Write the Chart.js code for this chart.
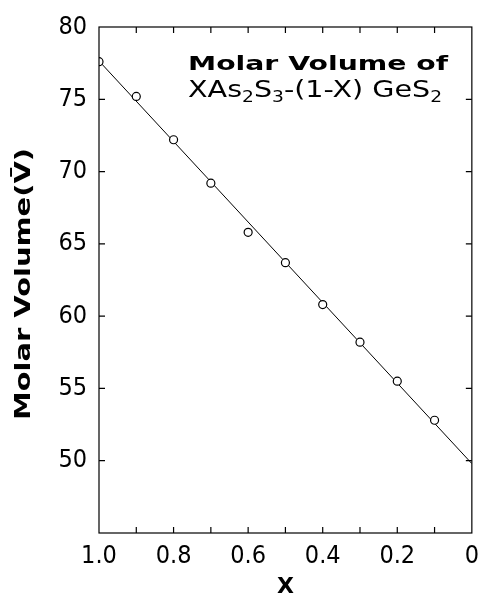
<!DOCTYPE html>
<html>
<head>
<meta charset="utf-8">
<script src="https://cdn.jsdelivr.net/npm/chart.js@4"></script>
<style>
  html, body { margin: 0; padding: 0; background: #fff; }
  #wrap { width: 487px; height: 600px; }
</style>
</head>
<body>
<div id="wrap"><canvas id="volumeChart"></canvas></div>
<script>
// Данные: мольная доля X и мольный объём
const xValues = [1.0, 0.9, 0.8, 0.7, 0.6, 0.5, 0.4, 0.3, 0.2, 0.1];
const molarVolume = [77.6, 75.2, 72.2, 69.2, 65.8, 63.7, 60.8, 58.2, 55.5, 52.8];
// Прямая через точки
const fitX = [1.0, 0];
const fitY = [77.65, 49.8];
// Подписи осей
const xTickValues = [1.0, 0.8, 0.6, 0.4, 0.2, 0];
const xTickLabels = ['1.0', '0.8', '0.6', '0.4', '0.2', '0'];
const yTickLabels = ['50', '55', '60', '65', '70', '75', '80'];

const tickFont = "'Liberation Sans Narrow', 'DejaVu Sans Condensed', 'Liberation Sans', sans-serif";

// Draw text squeezed/stretched to a given width
function drawFitted(ctx, text, x, y, width) {
    const w = ctx.measureText(text).width;
    ctx.save();
    ctx.translate(x, y);
    ctx.scale(width / w, 1);
    ctx.fillText(text, 0, 0);
    ctx.restore();
}

const framePlugin = {
    id: 'frame',
    afterDraw(chart) {
        const { ctx, chartArea: a, scales: { x, y } } = chart;
        ctx.save();
        ctx.strokeStyle = '#000';
        ctx.lineWidth = 1.2;
        ctx.strokeRect(a.left, a.top, a.right - a.left, a.bottom - a.top);

        // inward ticks
        ctx.beginPath();
        for (let i = 1; i < 10; i++) {
            const px = x.getPixelForValue(i / 10);
            ctx.moveTo(px, a.bottom); ctx.lineTo(px, a.bottom - 6);
            ctx.moveTo(px, a.top); ctx.lineTo(px, a.top + 6);
        }
        for (let v = 50; v < 80; v += 5) {
            const py = y.getPixelForValue(v);
            ctx.moveTo(a.left, py); ctx.lineTo(a.left + 6, py);
            ctx.moveTo(a.right, py); ctx.lineTo(a.right - 6, py);
        }
        ctx.stroke();

        ctx.fillStyle = '#000';
        ctx.textAlign = 'left';
        ctx.textBaseline = 'alphabetic';

        // подпись в поле графика, строка 1
        ctx.font = "bold 20px 'DejaVu Sans', sans-serif";
        drawFitted(ctx, 'Molar Volume of', 188, 70, 260);

        // строка 2 с индексами
        const parts = [
            { t: 'XAs', sub: false }, { t: '2', sub: true },
            { t: 'S', sub: false }, { t: '3', sub: true },
            { t: '-(1-X) GeS', sub: false }, { t: '2', sub: true }
        ];
        const mainFont = "23px 'DejaVu Sans', sans-serif";
        const subFont = "15px 'DejaVu Sans', sans-serif";
        let total = 0;
        parts.forEach(p => {
            ctx.font = p.sub ? subFont : mainFont;
            p.w = ctx.measureText(p.t).width;
            total += p.w;
        });
        const k = 254 / total;
        ctx.save();
        ctx.translate(188, 97);
        ctx.scale(k, 1);
        let cx = 0;
        parts.forEach(p => {
            ctx.font = p.sub ? subFont : mainFont;
            ctx.fillText(p.t, cx, p.sub ? 5 : 0);
            cx += p.w;
        });
        ctx.restore();

        // Y axis title
        ctx.save();
        ctx.translate(24, 284);
        ctx.rotate(-Math.PI / 2);
        ctx.font = "bold 22px 'DejaVu Sans', sans-serif";
        ctx.textAlign = 'center';
        ctx.textBaseline = 'middle';
        drawFitted(ctx, 'Molar Volume(V\u0304)', 0, 0, 272);
        ctx.restore();
        ctx.restore();
    }
};

new Chart(document.getElementById('volumeChart'), {
    type: 'scatter',
    data: {
        datasets: [
            {
                label: 'fit',
                type: 'line',
                data: fitX.map((v, i) => ({ x: v, y: fitY[i] })),
                borderColor: '#000',
                borderWidth: 1,
                pointRadius: 0,
                fill: false,
                order: 2
            },
            {
                label: 'Molar Volume',
                data: xValues.map((v, i) => ({ x: v, y: molarVolume[i] })),
                pointRadius: 4,
                pointBackgroundColor: '#fff',
                pointBorderColor: '#000',
                pointBorderWidth: 1.2,
                order: 1
            }
        ]
    },
    options: {
        responsive: true,
        maintainAspectRatio: false,
        animation: false,
        layout: { padding: { left: 0, top: 15, right: 14, bottom: 0 } },
        plugins: {
            legend: { display: false },
            tooltip: { enabled: false }
        },
        scales: {
            x: {
                type: 'linear',
                reverse: true,
                min: 0,
                max: 1,
                afterBuildTicks(scale) {
                    scale.ticks = xTickValues.map(v => ({ value: v }));
                },
                afterFit(scale) { scale.height = 67; },
                grid: { display: false, drawTicks: false },
                border: { display: false },
                ticks: {
                    padding: 8,
                    color: '#000',
                    font: { family: tickFont, size: 25 },
                    maxRotation: 0,
                    callback: (v) => xTickLabels[xTickValues.indexOf(v)]
                },
                title: {
                    display: true,
                    text: 'X',
                    color: '#000',
                    font: { family: "'DejaVu Sans', sans-serif", size: 22, weight: 'bold' },
                    padding: { top: 0, bottom: 0 }
                }
            },
            y: {
                min: 45,
                max: 80,
                afterFit(scale) { scale.width = 99; },
                grid: { display: false, drawTicks: false },
                border: { display: false },
                ticks: {
                    stepSize: 5,
                    padding: 12,
                    color: '#000',
                    font: { family: tickFont, size: 25 },
                    callback: (v) => yTickLabels.includes(String(v)) ? String(v) : ''
                }
            }
        }
    },
    plugins: [framePlugin]
});
</script>
</body>
</html>
